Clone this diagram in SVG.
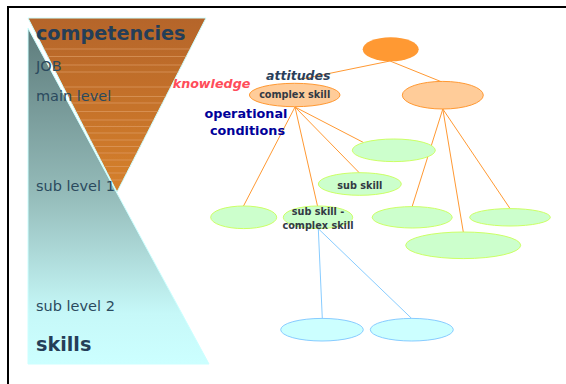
<svg xmlns="http://www.w3.org/2000/svg" width="566" height="384" viewBox="0 0 566 384">
  <style>
    .side { font-family: "DejaVu Sans", Verdana, sans-serif; fill: #2b4a5e; font-size: 14.5px; }
    .big { font-family: "DejaVu Sans", Verdana, sans-serif; fill: #243e58; font-size: 19.2px; font-weight: bold; }
    .lbl { font-family: "DejaVu Sans", Verdana, sans-serif; font-weight: bold; }
    .nt { font-family: "DejaVu Sans", Verdana, sans-serif; font-weight: bold; font-size: 9.7px; fill: #333a44; text-anchor: middle; }
    .e { stroke: #ff9933; stroke-width: 1; fill: none; }
    .b { stroke: #88ccff; stroke-width: 1; fill: none; }
    .g { fill: #ccffcc; stroke: #ccff66; stroke-width: 1; }
    .c { fill: #ccffff; stroke: #88ccff; stroke-width: 1; }
  </style>
  <defs>
    <linearGradient id="og" x1="0" y1="18" x2="0" y2="192" gradientUnits="userSpaceOnUse">
      <stop offset="0" stop-color="#b5652a"/>
      <stop offset="1" stop-color="#d6812c"/>
    </linearGradient>
    <linearGradient id="tg" x1="0" y1="28" x2="0" y2="364" gradientUnits="userSpaceOnUse">
      <stop offset="0" stop-color="#5d7b7b"/>
      <stop offset="0.5" stop-color="#95bcba"/>
      <stop offset="0.85" stop-color="#c6f8f8"/>
      <stop offset="1" stop-color="#ccffff"/>
    </linearGradient>
    <clipPath id="oc"><polygon points="28,18 206,18 117,192"/></clipPath>
  </defs>

  <!-- frame -->
  <path d="M8,384 V7 H566" fill="none" stroke="#000" stroke-width="2"/>

  <!-- competencies / skills funnel -->
  <g id="funnel">
    <polygon points="28,18 206,18 117,192" fill="url(#og)" stroke="#ccffff" stroke-width="1"/>
    <g clip-path="url(#oc)" stroke="#e0a06a" stroke-width="0.8" opacity="0.8">
      <line x1="28" y1="49" x2="206" y2="49"/>
      <line x1="28" y1="56.5" x2="206" y2="56.5"/>
      <line x1="28" y1="65" x2="206" y2="65"/>
      <line x1="28" y1="72" x2="206" y2="72"/>
      <line x1="28" y1="87" x2="206" y2="87"/>
      <line x1="28" y1="96.5" x2="206" y2="96.5"/>
      <line x1="28" y1="103" x2="206" y2="103"/>
      <line x1="28" y1="111.5" x2="206" y2="111.5"/>
      <line x1="28" y1="120" x2="206" y2="120"/>
      <line x1="28" y1="126.5" x2="206" y2="126.5"/>
      <line x1="28" y1="133" x2="206" y2="133"/>
      <line x1="28" y1="140" x2="206" y2="140"/>
      <line x1="28" y1="146.5" x2="206" y2="146.5"/>
      <line x1="28" y1="153" x2="206" y2="153"/>
      <line x1="28" y1="160" x2="206" y2="160"/>
      <line x1="28" y1="166.5" x2="206" y2="166.5"/>
      <line x1="28" y1="173" x2="206" y2="173"/>
      <line x1="28" y1="180" x2="206" y2="180"/>
    </g>
    <polygon points="28,28 209,364 28,364" fill="url(#tg)" stroke="#ccffff" stroke-width="1"/>
    <text class="big" x="36" y="40">competencies</text>
    <text class="side" x="36" y="71">JOB</text>
    <text class="side" x="36" y="101">main level</text>
    <text class="side" x="36" y="191">sub level 1</text>
    <text class="side" x="36" y="311">sub level 2</text>
    <text class="big" x="36" y="351">skills</text>
  </g>

  <!-- connectors -->
  <g id="connectors">
    <line class="e" x1="390" y1="61" x2="302" y2="79"/>
    <line class="e" x1="390" y1="61" x2="442" y2="82"/>
    <line class="e" x1="295" y1="107" x2="243.5" y2="206"/>
    <line class="e" x1="295" y1="107" x2="317.5" y2="206"/>
    <line class="e" x1="295" y1="107" x2="359.5" y2="173"/>
    <line class="e" x1="295" y1="107" x2="363.5" y2="142.5"/>
    <line class="e" x1="442.8" y1="109" x2="412" y2="207"/>
    <line class="e" x1="442.8" y1="109" x2="463.3" y2="232"/>
    <line class="e" x1="442.8" y1="109" x2="510" y2="208.5"/>
    <line class="b" x1="318.3" y1="228.7" x2="322.3" y2="318.5"/>
    <line class="b" x1="318.3" y1="228.7" x2="411.7" y2="318.5"/>
  </g>

  <g id="job">
    <ellipse cx="390.7" cy="49.3" rx="28" ry="12" fill="#ff9933"/>
  </g>
  <g id="complex-skill">
    <ellipse cx="294.7" cy="95" rx="45.3" ry="11.7" fill="#ffcc99" stroke="#ff9933" stroke-width="1"/>
    <text class="nt" x="294.7" y="98.3">complex skill</text>
  </g>
  <g id="main-right">
    <ellipse cx="442.8" cy="95.2" rx="40.5" ry="13.8" fill="#ffcc99" stroke="#ff9933" stroke-width="1"/>
  </g>
  <g id="labels">
    <text class="lbl" x="172.7" y="87.5" font-size="12.7" font-style="italic" fill="#ff4d5a">knowledge</text>
    <text class="lbl" x="266" y="80" font-size="12.5" font-style="italic" fill="#2b3f5a">attitudes</text>
    <text class="lbl" x="246" y="118" font-size="12.8" fill="#000099" text-anchor="middle">operational</text>
    <text class="lbl" x="247.5" y="135" font-size="12.8" fill="#000099" text-anchor="middle">conditions</text>
  </g>
  <g id="green-1"><ellipse class="g" cx="393.8" cy="150.3" rx="41.5" ry="11.3"/></g>
  <g id="sub-skill">
    <ellipse class="g" cx="359.8" cy="184" rx="41.5" ry="11.3"/>
    <text class="nt" x="359.8" y="188.5">sub skill</text>
  </g>
  <g id="green-left"><ellipse class="g" cx="243.7" cy="217.3" rx="33" ry="11.3"/></g>
  <g id="sub-skill-complex">
    <ellipse class="g" cx="318" cy="217.3" rx="34.7" ry="11.3"/>
    <text class="nt" x="318" y="214.5">sub skill -</text>
    <text class="nt" x="318" y="228.5">complex skill</text>
  </g>
  <g id="green-r1"><ellipse class="g" cx="412.2" cy="217.3" rx="40" ry="10.7"/></g>
  <g id="green-r2"><ellipse class="g" cx="510" cy="217.3" rx="40.3" ry="8.7"/></g>
  <g id="green-r3"><ellipse class="g" cx="463.2" cy="245.3" rx="57.5" ry="13.3"/></g>
  <g id="blue-1"><ellipse class="c" cx="322" cy="329.7" rx="41.3" ry="11.3"/></g>
  <g id="blue-2"><ellipse class="c" cx="411.8" cy="329.7" rx="41.5" ry="11.3"/></g>
</svg>
